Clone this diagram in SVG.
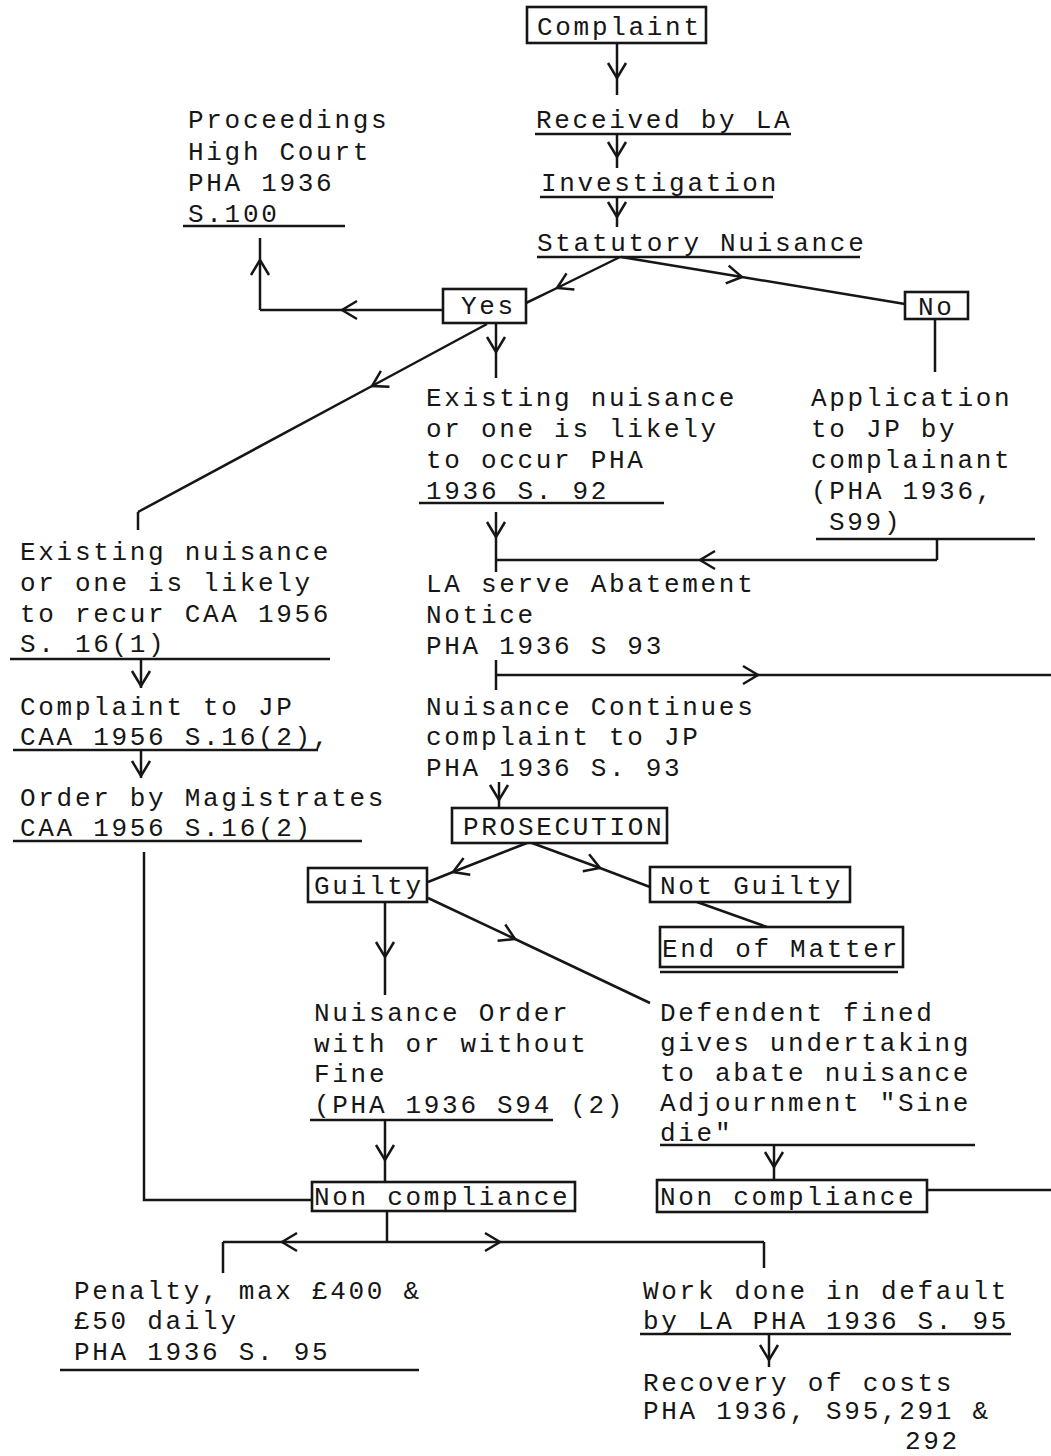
<svg xmlns="http://www.w3.org/2000/svg" width="1051" height="1456" viewBox="0 0 1051 1456">
<defs>
<style>
text{font-family:"Liberation Mono","Courier New",monospace;font-size:26px;letter-spacing:2.7px;fill:#161616}
.box{fill:#fff;stroke:#161616;stroke-width:2.6}
.ul{stroke:#161616;stroke-width:2.6}
.c{fill:none;stroke:#161616;stroke-width:2.5;stroke-linejoin:miter}
.m{marker-mid:url(#ch)}
</style>
<marker id="ch" viewBox="-18 -12 20 24" markerWidth="20" markerHeight="24" refX="0" refY="0" orient="auto" markerUnits="userSpaceOnUse">
<path d="M-15,-9 L0,0 L-15,9" fill="none" stroke="#161616" stroke-width="2.5"/>
</marker>
</defs>
<rect x="0" y="0" width="1051" height="1456" fill="#fff"/>

<g id="connectors">
<path class="c m" d="M617,43 L617,78 L617,95"/>
<path class="c m" d="M617,135 L617,157 L617,168"/>
<path class="c m" d="M617,198 L617,217 L617,227"/>
<path class="c m" d="M620,257 L557,288 L526,303"/>
<path class="c m" d="M621,257 L742,277 L905,304"/>
<path class="c m" d="M443,310 L342,310 L260,310"/>
<path class="c m" d="M260,310 L260,260 L260,238"/>
<path class="c m" d="M496,323 L496,352 L496,378"/>
<path class="c m" d="M487,324 L372,386 L138,512"/>
<path class="c" d="M138,512 L138,530"/>
<path class="c" d="M935,319 L935,372"/>
<path class="c m" d="M496,512 L496,537 L496,572"/>
<path class="c" d="M937,539 L937,560"/>
<path class="c m" d="M937,560 L700,560 L496,560"/>
<path class="c" d="M496,660 L496,690"/>
<path class="c m" d="M496,675 L758,675 L1051,675"/>
<path class="c m" d="M141,660 L141,686 L141,688"/>
<path class="c m" d="M141,750 L141,776 L141,778"/>
<path class="c" d="M144,852 L144,1200 L312,1200"/>
<path class="c m" d="M499,782 L499,800 L499,808"/>
<path class="c m" d="M527,843 L453,872 L428,882"/>
<path class="c m" d="M532,843 L600,868 L650,887"/>
<path class="c" d="M697,902 L767,927"/>
<path class="c m" d="M385,902 L385,957 L385,995"/>
<path class="c m" d="M428,898 L515,939 L650,1003"/>
<path class="c m" d="M385,1120 L385,1160 L385,1182"/>
<path class="c m" d="M774,1145 L774,1167 L774,1180"/>
<path class="c" d="M927,1190 L1051,1190"/>
<path class="c" d="M387,1212 L387,1242"/>
<path class="c m" d="M387,1242 L282,1242 L223,1242"/>
<path class="c" d="M223,1242 L223,1273"/>
<path class="c m" d="M387,1242 L500,1242 L764,1242"/>
<path class="c" d="M764,1242 L764,1268"/>
<path class="c m" d="M769,1334 L769,1360 L769,1367"/>
</g>

<g id="complaint">
<rect class="box" x="527" y="7" width="179" height="36"/>
<text x="537" y="35">Complaint</text>
</g>
<g id="received">
<text x="536" y="128">Received by LA</text>
<line class="ul" x1="535" y1="134" x2="791" y2="134"/>
</g>
<g id="investigation">
<text x="541" y="191">Investigation</text>
<line class="ul" x1="540" y1="197" x2="773" y2="197"/>
</g>
<g id="statutory">
<text x="537" y="251">Statutory Nuisance</text>
<line class="ul" x1="537" y1="257" x2="860" y2="257"/>
</g>
<g id="yes">
<rect class="box" x="443" y="289" width="83" height="34"/>
<text x="461" y="314">Yes</text>
</g>
<g id="no">
<rect class="box" x="905" y="292" width="63" height="27"/>
<text x="918" y="315">No</text>
</g>
<g id="proceedings">
<text x="188" y="128">Proceedings</text>
<text x="188" y="160">High Court</text>
<text x="188" y="191">PHA 1936</text>
<text x="188" y="222">S.100</text>
<line class="ul" x1="183" y1="226" x2="345" y2="226"/>
</g>
<g id="existing-pha">
<text x="426" y="406">Existing nuisance</text>
<text x="426" y="437">or one is likely</text>
<text x="426" y="468">to occur PHA</text>
<text x="426" y="499">1936 S. 92</text>
<line class="ul" x1="419" y1="503" x2="664" y2="503"/>
</g>
<g id="application">
<text x="811" y="406">Application</text>
<text x="811" y="437">to JP by</text>
<text x="811" y="468">complainant</text>
<text x="811" y="499">(PHA 1936,</text>
<text x="829" y="530">S99)</text>
<line class="ul" x1="816" y1="539" x2="1035" y2="539"/>
</g>
<g id="existing-caa">
<text x="20" y="560">Existing nuisance</text>
<text x="20" y="591">or one is likely</text>
<text x="20" y="622">to recur CAA 1956</text>
<text x="20" y="652">S. 16(1)</text>
<line class="ul" x1="10" y1="659" x2="330" y2="659"/>
</g>
<g id="abatement">
<text x="426" y="592">LA serve Abatement</text>
<text x="426" y="623">Notice</text>
<text x="426" y="654">PHA 1936 S 93</text>
</g>
<g id="complaint-jp">
<text x="20" y="715">Complaint to JP</text>
<text x="20" y="745">CAA 1956 S.16(2),</text>
<line class="ul" x1="13" y1="750" x2="318" y2="750"/>
</g>
<g id="order-magistrates">
<text x="20" y="806">Order by Magistrates</text>
<text x="20" y="836">CAA 1956 S.16(2)</text>
<line class="ul" x1="13" y1="841" x2="362" y2="841"/>
</g>
<g id="nuisance-continues">
<text x="426" y="715">Nuisance Continues</text>
<text x="426" y="745">complaint to JP</text>
<text x="426" y="776">PHA 1936 S. 93</text>
</g>
<g id="prosecution">
<rect class="box" x="452" y="808" width="215" height="35"/>
<text x="463" y="835">PROSECUTION</text>
</g>
<g id="guilty">
<rect class="box" x="308" y="868" width="119" height="34"/>
<text x="314" y="894">Guilty</text>
</g>
<g id="not-guilty">
<rect class="box" x="650" y="867" width="200" height="35"/>
<text x="660" y="894">Not Guilty</text>
</g>
<g id="end-of-matter">
<rect class="box" x="660" y="927" width="243" height="40"/>
<text x="662" y="957">End of Matter</text>
<line class="ul" x1="660" y1="972" x2="898" y2="972"/>
</g>
<g id="nuisance-order">
<text x="314" y="1021">Nuisance Order</text>
<text x="314" y="1052">with or without</text>
<text x="314" y="1082">Fine</text>
<text x="314" y="1113">(PHA 1936 S94 (2)</text>
<line class="ul" x1="310" y1="1120" x2="553" y2="1120"/>
</g>
<g id="defendent">
<text x="660" y="1021">Defendent fined</text>
<text x="660" y="1051">gives undertaking</text>
<text x="660" y="1081">to abate nuisance</text>
<text x="660" y="1111">Adjournment "Sine</text>
<text x="660" y="1141">die"</text>
<line class="ul" x1="660" y1="1145" x2="975" y2="1145"/>
</g>
<g id="non-compliance-1">
<rect class="box" x="312" y="1182" width="263" height="29"/>
<text x="314" y="1205">Non compliance</text>
</g>
<g id="non-compliance-2">
<rect class="box" x="657" y="1180" width="270" height="32"/>
<text x="660" y="1205">Non compliance</text>
</g>
<g id="penalty">
<text x="74" y="1299">Penalty, max £400 &amp;</text>
<text x="74" y="1329">£50 daily</text>
<text x="74" y="1360">PHA 1936 S. 95</text>
<line class="ul" x1="60" y1="1370" x2="419" y2="1370"/>
</g>
<g id="work-done">
<text x="643" y="1299">Work done in default</text>
<text x="643" y="1329">by LA PHA 1936 S. 95</text>
<line class="ul" x1="640" y1="1334" x2="1011" y2="1334"/>
</g>
<g id="recovery">
<text x="643" y="1391">Recovery of costs</text>
<text x="643" y="1419">PHA 1936, S95,291 &amp;</text>
<text x="905" y="1449">292</text>
</g>
</svg>
